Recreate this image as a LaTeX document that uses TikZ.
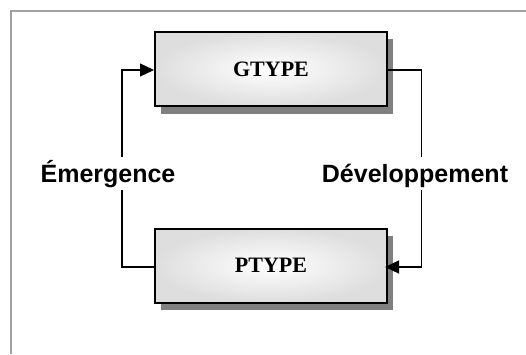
\documentclass[tikz,border=0pt]{standalone}
\usepackage{fontspec}
\setmainfont{Liberation Serif}
\newfontfamily\labelfont{Liberation Sans}
\usetikzlibrary{arrows.meta,shadows}
\definecolor{framegray}{RGB}{160,160,160}
\definecolor{boxedge}{RGB}{222,222,222}
\definecolor{shadowgray}{RGB}{128,128,128}
\tikzset{
  typebox/.style={rectangle, minimum width=232pt, minimum height=74pt,
    inner sep=0pt, line width=2pt, draw=black,
    inner color=white, outer color=boxedge,
    preaction={draw=white, line width=5pt},
    drop shadow={shadow xshift=5.5pt, shadow yshift=-7.5pt, fill=shadowgray, opacity=1},
    font=\fontsize{22}{24}\selectfont\bfseries},
  conn/.style={line width=1.2pt, draw=black},
  tip/.style={-{Triangle[length=14pt,width=13pt]}},
  lab/.style={fill=white, anchor=base, inner xsep=2pt, inner ysep=2.3pt,
    text height=23pt, text depth=5.5pt,
    font=\labelfont\fontsize{25}{28}\selectfont\bfseries},
  frameline/.style={line width=2pt, draw=framegray}
}
\begin{document}
\begin{tikzpicture}[x=1pt,y=1pt]
\useasboundingbox (0,0) rectangle (526,354);
\fill[white] (0,0) rectangle (526,354);
\coordinate (fa) at (11,0);
\coordinate (fb) at (11,343);
\coordinate (fc) at (527,343);
\draw[frameline] (fa) -- (fb) -- (fc);

\node[typebox] (G) at (271,285) {GTYPE};
\node[typebox] (P) at (271,88.5) {PTYPE};

\coordinate (Lt) at (122,284);
\coordinate (Lb) at (122,87);
\coordinate (Rt) at (421.7,284);
\coordinate (Rb) at (421.7,87);

\draw[conn,tip] (P.west |- Lb) -- (Lb) -- (Lt) -- (G.west |- Lt);
\draw[conn,tip,shorten >=-3pt] (G.east |- Rt) -- (Rt) -- (Rb) -- (P.east |- Rb);

\node[lab] (em) at (108,171.7) {Émergence};
\node[lab] (dev) at (415,171.7) {Développement};
\end{tikzpicture}
\end{document}
